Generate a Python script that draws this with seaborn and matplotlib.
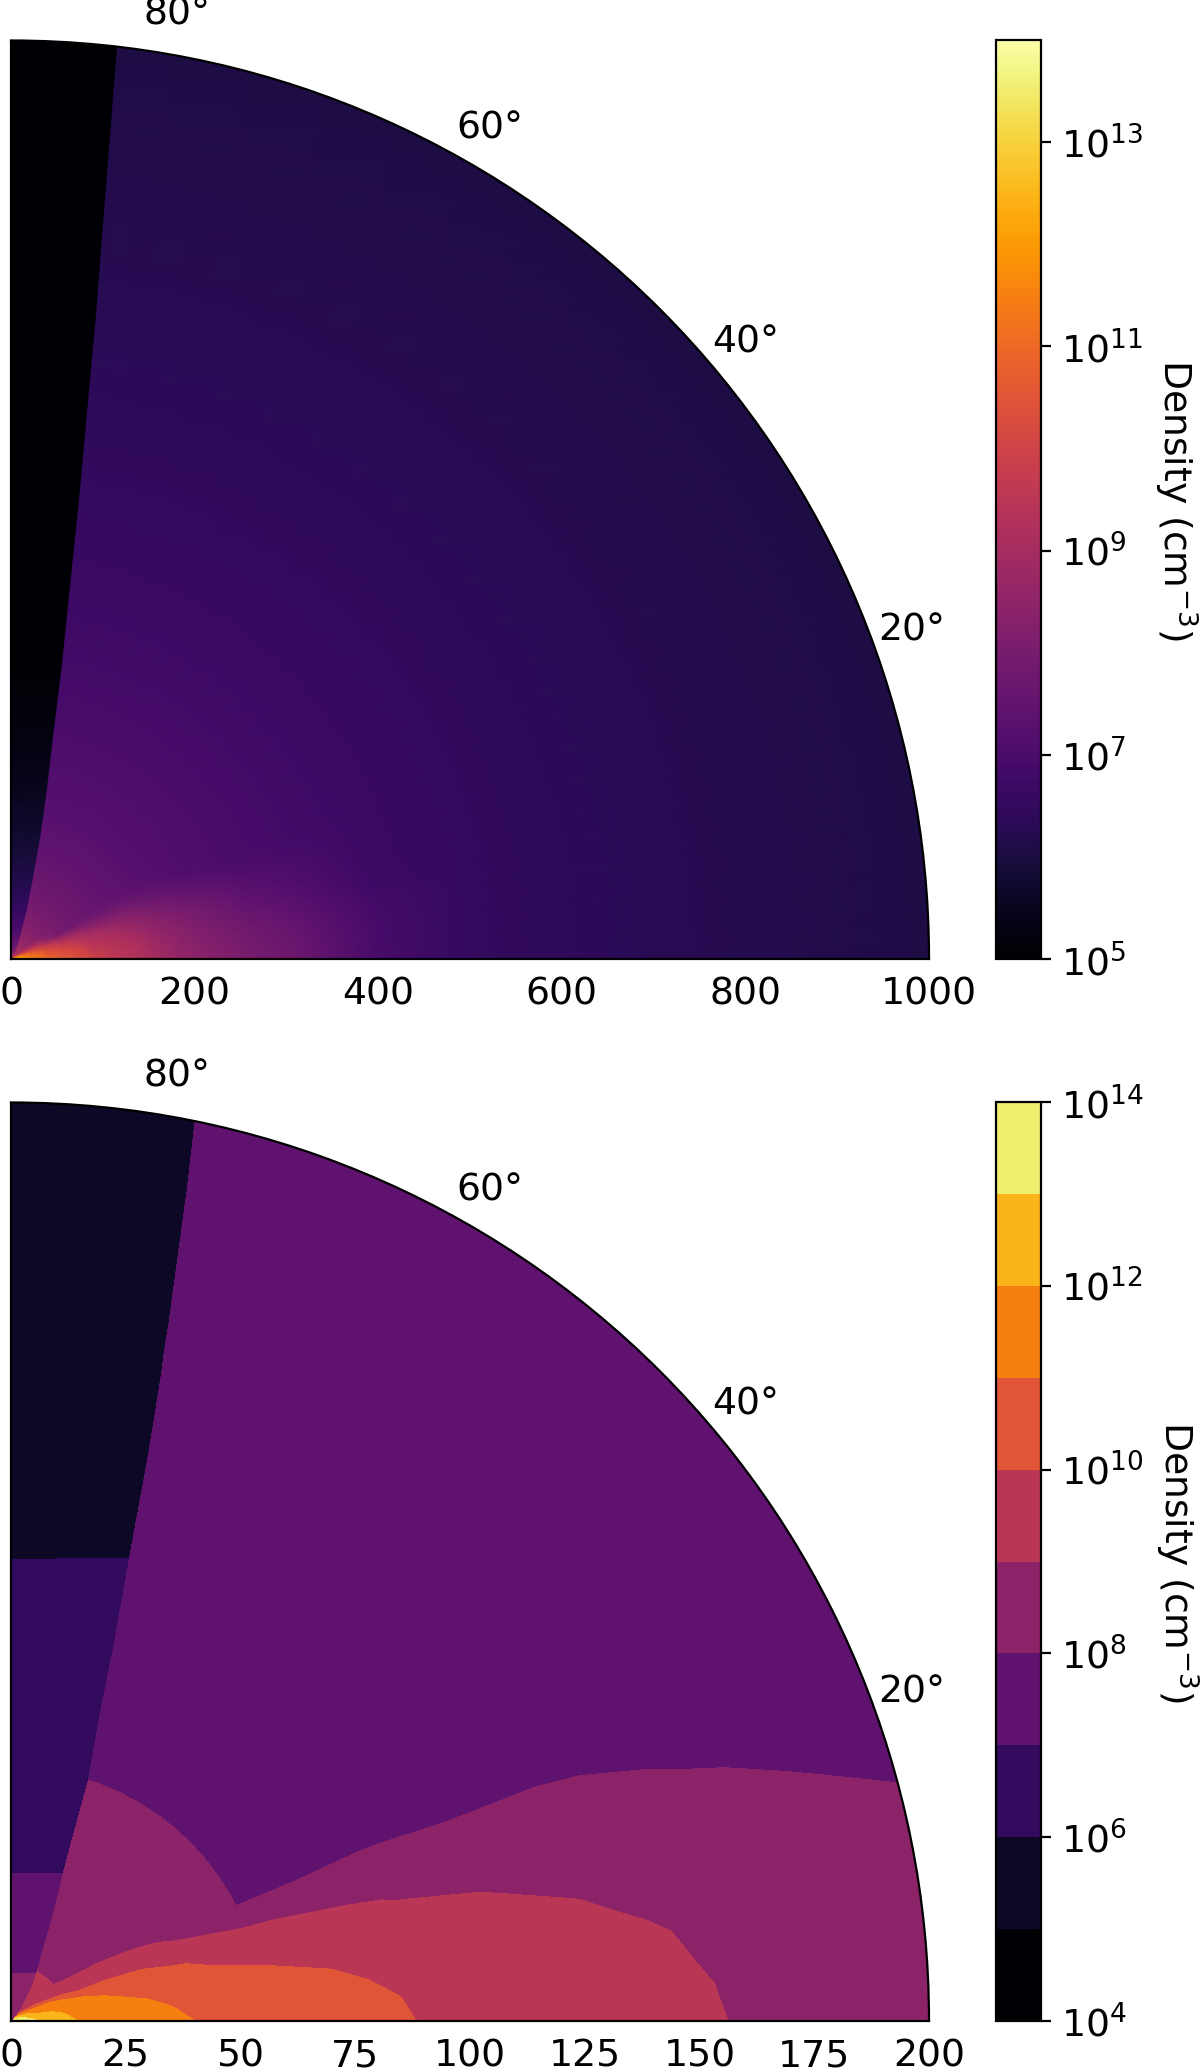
import matplotlib
matplotlib.use('Agg')
import matplotlib.pyplot as plt
from matplotlib.colors import BoundaryNorm, ListedColormap, Normalize
import seaborn as sns
import numpy as np

# radial nodes of the density table
r_nodes = [0, 1, 3, 6, 9, 12, 16, 22, 30, 35, 38, 40, 55, 70, 78, 85, 88, 105, 125, 135, 145, 150, 155,
           165, 185, 200, 260, 320, 400, 500, 700, 1000, 1500]

# opening angle of the jet edge (degrees) at each radial node
jet_edge = [50, 50, 52, 58, 60, 63, 66, 68, 70, 71, 71.3, 71.5, 72.4, 74, 74.5, 74.8, 75, 75.8, 76.4, 76.7,
            77, 77.2, 77.3, 77.6, 78.1, 78.5, 79.6, 80.2, 81, 81.6, 82.5, 83.4, 84]

# log10 density inside the jet, at its edge and on the axis
jet_log_edge = [8.9, 8.9, 8.9, 8.9, 8.22, 7.96, 7.68, 7.4, 7.1, 6.97, 6.91, 6.87, 6.58, 6.37, 6.26, 6.17,
                6.14, 5.99, 5.86, 5.79, 5.72, 5.69, 5.66, 5.61, 5.51, 5.44, 5.2, 5.03, 5.02, 5.02, 5.02,
                5.02, 5.02]
jet_log_axis = [8.9, 8.9, 8.9, 8.9, 8.1, 7.86, 7.6, 7.33, 7.05, 6.93, 6.87, 6.82, 6.54, 6.33, 6.22, 6.14,
                6.11, 5.96, 5.83, 5.76, 5.7, 5.67, 5.64, 5.59, 5.49, 5.42, 5.18, 5.02, 5.02, 5.02, 5.02,
                5.02, 5.02]

# log10 density of the wind, only depends on radius
wind_log = [10.7, 10.65, 9.92, 9.46, 9.19, 9.0, 8.82, 8.6, 8.4, 8.3, 8.24, 8.21, 8.0, 7.84, 7.76, 7.71,
            7.69, 7.57, 7.46, 7.41, 7.36, 7.34, 7.32, 7.27, 7.2, 7.15, 6.97, 6.84, 6.69, 6.54, 6.32,
            6.08, 5.8]

# log10 density of the disk, one row per radial node, one column per angle
disk_theta = [0, 3, 6, 9, 12, 15, 18, 21, 24, 27, 30, 35, 40]
disk_log = [
    [14, 13.95, 13.9, 13.8, 13.6, 13.4, 13.3, 13.2, 13.1, 12.9, 12.6, 11.8, 11],
    [14, 13.95, 13.9, 13.8, 13.6, 13.4, 13.3, 13.2, 13.1, 12.9, 12.6, 11.8, 11],
    [13.5, 13.4, 13.25, 13.12, 13, 12.75, 12.55, 12.3, 12.1, 11.75, 11.4, 10.75, 10],
    [12.95, 12.8, 12.6, 12.4, 12.2, 11.97, 11.7, 11.5, 11.3, 11.05, 10.6, 9.8, 9.2],
    [12.5, 12.4, 12.25, 12.12, 12.02, 11.75, 11.55, 11.35, 11.15, 10.65, 9.9, 9.4, 8.9],
    [12.2, 12.1, 12.03, 11.93, 11.7, 11.5, 11.3, 11.1, 10.7, 10.0, 9.7, 9.25, 8.8],
    [11.85, 11.75, 11.65, 11.5, 11.35, 11.2, 11.05, 10.6, 9.95, 9.75, 9.55, 9.05, 8.6],
    [11.55, 11.45, 11.35, 11.22, 11.1, 10.95, 10.6, 10.25, 9.9, 9.6, 9.3, 8.9, 8.5],
    [11.3, 11.2, 11.1, 11, 10.8, 10.55, 10.3, 10.05, 9.7, 9.4, 9.05, 8.6, 8.3],
    [11.12, 11.07, 10.97, 10.78, 10.6, 10.37, 10.13, 9.85, 9.5, 9.15, 8.85, 8.4, 8.15],
    [11.05, 10.97, 10.8, 10.62, 10.45, 10.25, 10.05, 9.7, 9.33, 9, 8.7, 8.3, 8.08],
    [11, 10.85, 10.65, 10.5, 10.35, 10.17, 10, 9.6, 9.2, 8.85, 8.55, 8.2, 8],
    [10.65, 10.5, 10.35, 10.2, 10.05, 9.75, 9.45, 9.1, 8.6, 8, 7.8, 7.6, 7.5],
    [10.35, 10.25, 10.14, 10.02, 9.75, 9.5, 9.2, 8.85, 8.35, 7.85, 7.6, 7.4, 7.3],
    [10.18, 10.12, 10.04, 9.85, 9.6, 9.35, 9.1, 8.75, 8.3, 7.85, 7.55, 7.35, 7.25],
    [10.06, 10.03, 9.85, 9.6, 9.42, 9.25, 9, 8.65, 8.25, 7.85, 7.5, 7.3, 7.2],
    [10.01, 9.85, 9.65, 9.5, 9.32, 9.17, 8.95, 8.6, 8.2, 7.85, 7.5, 7.3, 7.2],
    [9.7, 9.6, 9.48, 9.35, 9.2, 9.03, 8.8, 8.45, 8.05, 7.75, 7.5, 7.2, 7],
    [9.42, 9.35, 9.25, 9.15, 9.02, 8.8, 8.55, 8.3, 8, 7.7, 7.5, 7, 7],
    [9.3, 9.27, 9.2, 9.05, 8.9, 8.7, 8.47, 8.22, 7.93, 7.65, 7.45, 7, 7],
    [9.12, 9.12, 9.07, 8.95, 8.75, 8.55, 8.35, 8.1, 7.8, 7.6, 7.4, 7, 7],
    [9.08, 9.07, 8.95, 8.82, 8.65, 8.48, 8.28, 8.04, 7.75, 7.55, 7.37, 7, 7],
    [9.02, 8.97, 8.85, 8.72, 8.57, 8.42, 8.22, 7.97, 7.7, 7.5, 7.33, 7, 7],
    [8.85, 8.8, 8.7, 8.6, 8.45, 8.3, 8.12, 7.88, 7.6, 7.45, 7.3, 7, 7],
    [8.6, 8.55, 8.45, 8.35, 8.25, 8.15, 7.9, 7.7, 7.5, 7.3, 7, 7, 7],
    [8.45, 8.4, 8.3, 8.2, 8.1, 8, 7.75, 7.55, 7.35, 7, 7, 7, 7],
    [8, 7.95, 7.85, 7.75, 7.6, 7.45, 7.3, 7.15, 7, 6, 6, 6, 6],
    [7.65, 7.6, 7.5, 7.4, 7.25, 7.12, 7.05, 6.92, 6.85, 6, 6, 6, 6],
    [6.95, 6.93, 6.9, 6.85, 6.75, 6, 6, 6, 6, 6, 6, 6, 6],
    [6, 6, 6, 6, 6, 6, 6, 6, 6, 6, 6, 6, 6],
    [6, 6, 6, 6, 6, 6, 6, 6, 6, 6, 6, 6, 6],
    [5, 5, 5, 5, 5, 5, 5, 5, 5, 5, 5, 5, 5],
    [5, 5, 5, 5, 5, 5, 5, 5, 5, 5, 5, 5, 5],
]

# angles where the wind is the only thing left
wind_theta = [45, 50, 55, 60, 65, 70, 75, 80, 85, 90]

# top panel
top_rticks = [0, 200, 400, 600, 800, 1000]
top_cbar_ticks = [5, 7, 9, 11, 13]
top_range = (5, 14)

# bottom panel
bottom_rticks = [0, 25, 50, 75, 100, 125, 150, 175, 200]
band_levels = [4, 5, 6, 7, 8, 9, 10, 11, 12, 13, 14]
band_colors = ['#000004', '#0c0826', '#320a5e', '#60136e', '#8c2369',
               '#ba3655', '#e05536', '#f6800f', '#fbb51a', '#f1ed6f']
bottom_cbar_ticks = [4, 6, 8, 10, 12, 14]
theta_labels = [20, 40, 60, 80]


def decade_labels(ticks):
    return [r'$\mathdefault{10^{%d}}$' % t for t in ticks]


def build_grids():
    r = np.array(r_nodes, dtype=float)
    edge = np.array(jet_edge, dtype=float)
    wind = np.array(wind_log)[:, None]
    cols = np.array(disk_theta + wind_theta, dtype=float)
    # wind and disk fill everything from the midplane up to the jet edge
    outer_t = np.radians(np.minimum(cols[None, :], edge[:, None]))
    outer_r = np.repeat(r[:, None], len(cols), axis=1)
    outer_z = np.hstack([np.maximum(np.array(disk_log), wind),
                         np.repeat(wind, len(wind_theta), axis=1)])
    jet_t = np.radians(np.c_[edge, np.full_like(edge, 90.0)])
    jet_r = np.c_[r, r]
    jet_z = np.c_[jet_log_edge, jet_log_axis]
    return (outer_t, outer_r, outer_z), (jet_t, jet_r, jet_z)


def style_polar(ax, rmax, rticks):
    ax.set_thetamin(0)
    ax.set_thetamax(90)
    ax.set_rlim(0, rmax)
    ax.set_rticks(rticks)
    ax.set_thetagrids(theta_labels)
    ax.grid(False)
    ax.tick_params(axis='x', pad=4)
    ax.tick_params(axis='y', pad=3)


sns.set_theme(style='ticks', rc={
    'font.size': 13.6, 'axes.labelsize': 13.6, 'xtick.labelsize': 13.6, 'ytick.labelsize': 13.6,
    'text.color': 'black', 'axes.labelcolor': 'black', 'xtick.color': 'black', 'ytick.color': 'black',
    'axes.edgecolor': 'black', 'axes.linewidth': 0.8, 'xtick.major.width': 0.8, 'ytick.major.width': 0.8,
    'xtick.major.size': 3.6, 'ytick.major.size': 3.6,
})
plt.rcParams['font.family'] = ['DejaVu Sans']

W, H = 1200, 2072
fig = plt.figure(figsize=(W / 200, H / 200), dpi=200)

outer, jet = build_grids()

# smooth panel
ax_top = fig.add_axes([11 / W, 1 - 959 / H, 918 / W, 919 / H], projection='polar')
cmap = sns.color_palette('inferno', as_cmap=True)
norm = Normalize(*top_range)
mesh = ax_top.pcolormesh(outer[0], outer[1], outer[2], cmap=cmap, norm=norm, shading='gouraud')
ax_top.pcolormesh(jet[0], jet[1], jet[2], cmap=cmap, norm=norm, shading='gouraud')
style_polar(ax_top, 1000, top_rticks)
cax_top = fig.add_axes([996 / W, 1 - 959 / H, 45 / W, 919 / H])
cbar = fig.colorbar(mesh, cax=cax_top, ticks=top_cbar_ticks)
cbar.set_ticklabels(decade_labels(top_cbar_ticks))
cbar.ax.minorticks_off()
cbar.set_label('Density (cm$^{-3}$)', rotation=270, labelpad=20.5)

# banded panel, same table zoomed in
ax_bot = fig.add_axes([11 / W, 1 - 2021 / H, 918 / W, 919 / H], projection='polar')
band_cmap = ListedColormap(band_colors)
band_norm = BoundaryNorm(band_levels, len(band_colors))
cs = ax_bot.contourf(outer[0], outer[1], outer[2], levels=band_levels, cmap=band_cmap, norm=band_norm)
ax_bot.contourf(jet[0], jet[1], jet[2], levels=band_levels, cmap=band_cmap, norm=band_norm)
style_polar(ax_bot, 200, bottom_rticks)
cax_bot = fig.add_axes([996 / W, 1 - 2021 / H, 45 / W, 919 / H])
cbar2 = fig.colorbar(cs, cax=cax_bot, ticks=bottom_cbar_ticks)
cbar2.set_ticklabels(decade_labels(bottom_cbar_ticks))
cbar2.ax.minorticks_off()
cbar2.set_label('Density (cm$^{-3}$)', rotation=270, labelpad=20.5)

fig.savefig('out.png', dpi=200)
plt.close(fig)
